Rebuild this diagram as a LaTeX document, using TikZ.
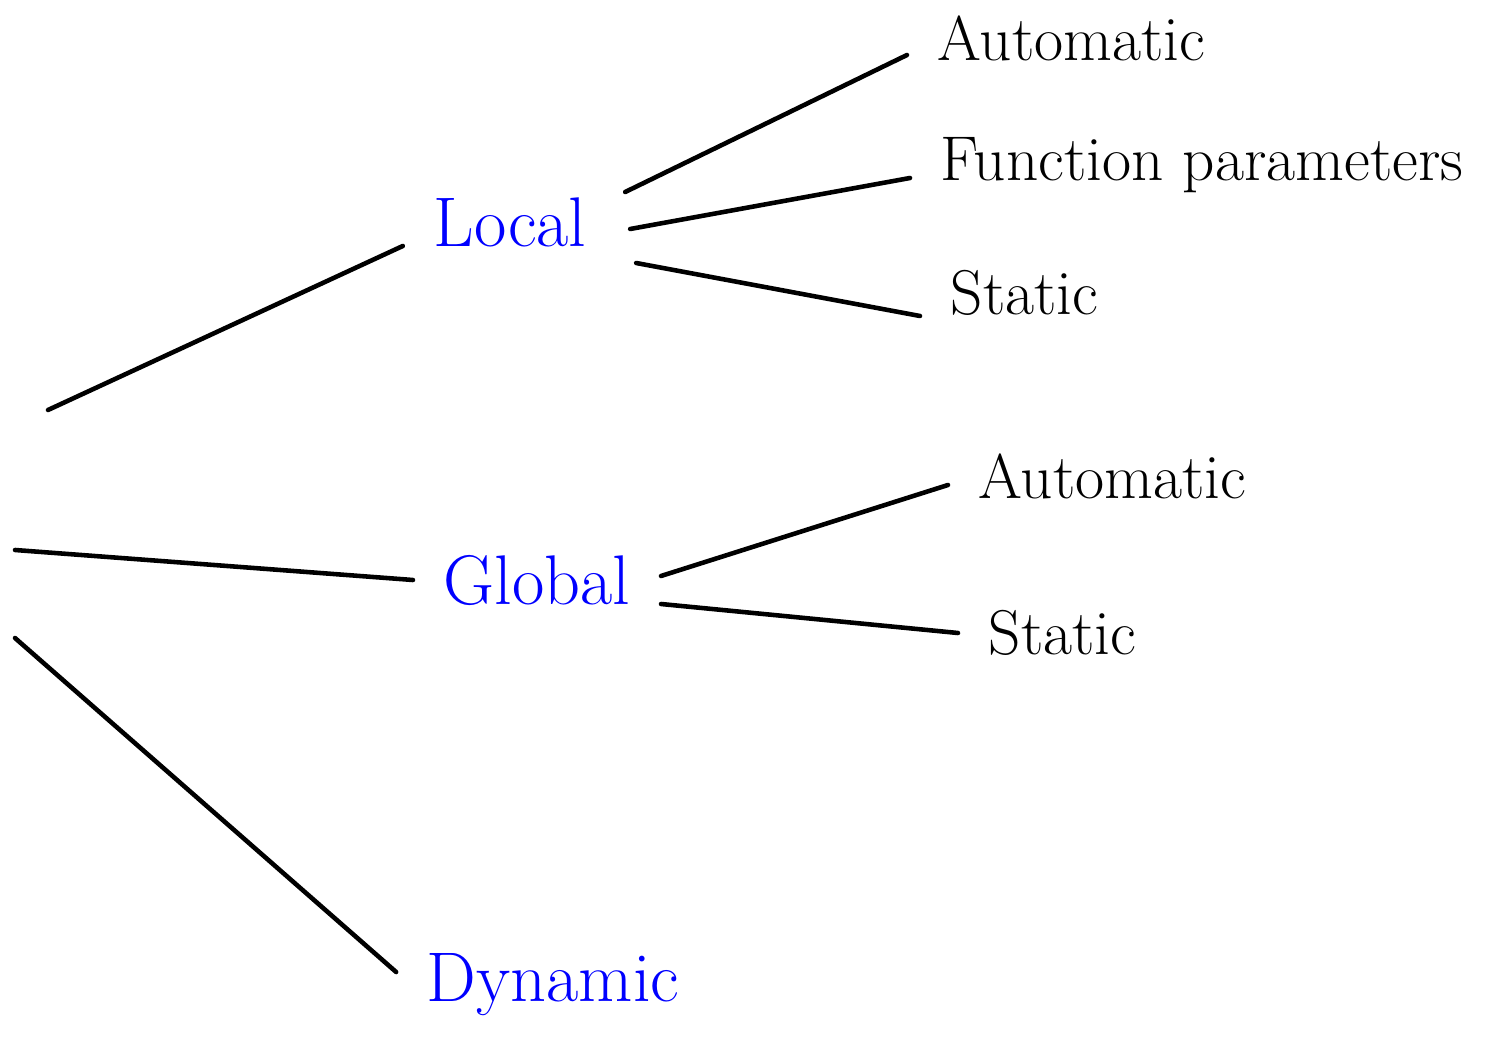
\documentclass[tikz,border=0pt]{standalone}
\usepackage{xcolor}
\usepackage{tikz}

\begin{document}
\begin{tikzpicture}[x=0.1mm, y={(0,-0.1mm)},
    kind/.style = {text=blue, inner sep=3mm,
                   font=\fontsize{20}{24}\selectfont},
    leaf/.style = {anchor=west, inner sep=3mm,
                   font=\fontsize{18}{22}\selectfont},
    branch/.style = {line width=1.3pt, line cap=round}]
  \useasboundingbox (0,0) rectangle (1510,1050);

  \coordinate (top) at (48,410);
  \coordinate (mid) at (15,550);
  \coordinate (low) at (15,638);

  \node (local) [kind] at (510,222) {Local};
  \node (global) [kind] at (537,580) {Global};
  \node (dynamic) [kind] at (553,985) {Dynamic};

  \node (autolocal) [leaf] at (907,38) {Automatic};
  \node (params) [leaf] at (910,165) {Function parameters};
  \node (statlocal) [leaf] at (920,293) {Static};

  \node (autoglobal) [leaf] at (948,476) {Automatic};
  \node (statglobal) [leaf] at (958,633) {Static};

  \draw[branch] (top) -- ([yshift=-2.4mm]local.west);
  \draw[branch] (mid) -- (global.west);
  \draw[branch] (low) -- ([yshift=1.3mm]dynamic.west);

  \draw[branch] ([xshift=0.8mm,yshift=3mm]local.east) -- ([yshift=-1.7mm]autolocal.west);
  \draw[branch] ([xshift=1.3mm,yshift=-0.7mm]local.east) -- ([yshift=-1.3mm]params.west);
  \draw[branch] ([xshift=1.9mm,yshift=-4.1mm]local.east) -- ([yshift=-2.3mm]statlocal.west);

  \draw[branch] ([yshift=0.4mm]global.east) -- ([yshift=-0.9mm]autoglobal.west);
  \draw[branch] ([yshift=-2.4mm]global.east) -- (statglobal.west);
\end{tikzpicture}
\end{document}
